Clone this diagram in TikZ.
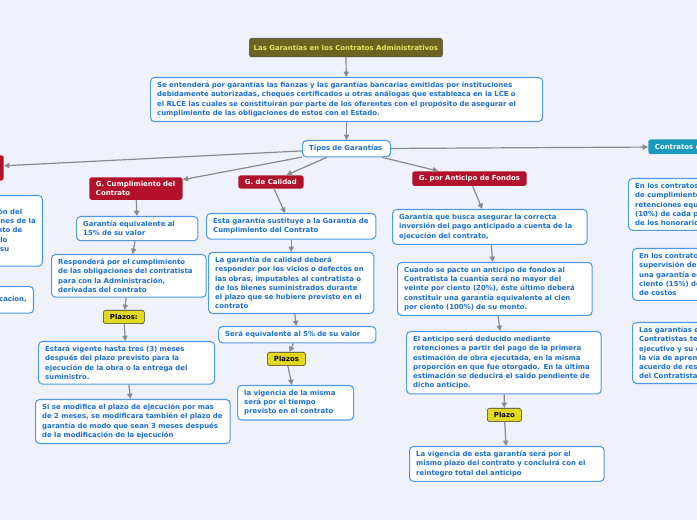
\documentclass[tikz,border=0pt]{standalone}
\usepackage{fontspec}
\setmainfont{DejaVu Sans}
\usetikzlibrary{arrows.meta}
\hyphenpenalty=10000
\exhyphenpenalty=10000
\newcommand\myfnt{\fontsize{5.2}{6.9}\selectfont\bfseries\hyphenpenalty10000\relax}
\definecolor{bg}{HTML}{F0F2FB}
\definecolor{tb}{HTML}{1B6FD2}
\definecolor{bd}{HTML}{4C9BEA}
\definecolor{rd}{HTML}{B3102C}
\definecolor{ol}{HTML}{6A6420}
\definecolor{yl}{HTML}{E3DA1E}
\definecolor{tl}{HTML}{1A9BBE}
\definecolor{ar}{HTML}{8A8A8A}
\tikzset{
 ft/.style={font=\myfnt},
 bx/.style={ft,draw=bd,fill=white,rounded corners=3pt,line width=0.8pt,text=tb,anchor=north west,align=left,inner xsep=5pt,inner ysep=3.5pt},
 rb/.style={ft,fill=rd,rounded corners=2pt,text=white,anchor=north west,align=left,inner xsep=5pt,inner ysep=3pt},
 yb/.style={ft,fill=yl,draw=black!80,rounded corners=2pt,text=black,anchor=north west,inner xsep=5pt,inner ysep=3pt},
 ar/.style={draw=ar,line width=0.9pt,-{Triangle[length=4pt,width=4pt]}}
}
\begin{document}
\begin{tikzpicture}[x=0.75pt,y=-0.75pt]
\fill[bg] (0,0) rectangle (697,520);
\useasboundingbox (0,0) rectangle (697,520);
\clip (0,0) rectangle (697,520);
\node[ft,fill=ol,draw=black!70,rounded corners=2pt,text=yl!70!white,anchor=north west,minimum width=140.25pt,minimum height=14pt] (t) at (249,38) {Las Garantías en los Contratos Administrativos};
\node[bx,text width=284pt] (i) at (150,77) {Se entenderá por garantías las fianzas y las garantías bancarias emitidas por instituciones debidamente autorizadas, cheques certificados u otras análogas que establezca en la LCE o el RLCE las cuales se constituirán por parte de los oferentes con el propósito de asegurar el cumplimiento de las obligaciones de estos con el Estado.};
\node[bx,text width=56pt] (tg) at (302,140) {Tipos de Garantías};
\node[rb,anchor=north east,minimum height=19pt] (lr) at (4,155) {G. de Participación};
\node[ft,fill=tl,rounded corners=2pt,text=white,anchor=north west,inner xsep=5pt,inner ysep=3.5pt] (ct) at (648,139) {Contratos de Consultoría};
\node[rb,text width=60pt] (gc) at (89,177) {G. Cumplimiento del Contrato};
\node[rb] (gq) at (238,175) {G. de Calidad};
\node[rb] (ga) at (412,171) {G. por Anticipo de Fondos};
% left partial
\node[bx,anchor=north east,minimum height=53pt] (l1) at (43,195) {Garantía de participación del\\oferente en las licitaciones de la\\Administración por monto de\\porcentaje establecido lo\\uno por ciento (1\%) de su};
\node[bx,anchor=north east,minimum height=20pt] (l2) at (34,286) {vigente hasta la adjudicacion,};
% cumplimiento
\node[bx,text width=81pt] (c1) at (76,216) {Garantía equivalente al 15\% de su valor};
\node[bx,text width=106pt] (c2) at (51,254) {Responderá por el cumplimiento de las obligaciones del contratista para con la Administración, derivadas del contrato};
\node[yb] (c3) at (103,310) {Plazos:};
\node[bx,text width=122pt] (c4) at (38,341) {Estará vigente hasta tres (3) meses después del plazo previsto para la ejecución de la obra o la entrega del suministro.};
\node[bx,text width=136pt] (c5) at (35,399) {Si se modifica el plazo de ejecución por mas de 2 meses, se modificara también el plazo de garantía de modo que sean 3 meses después de la modificación de la ejecución};
% calidad
\node[bx,text width=117pt] (q1) at (206,213) {Esta garantía sustituye a la Garantía de Cumplimiento del Contrato};
\node[bx,text width=114pt] (q2) at (208,252) {La garantía de calidad deberá responder por  los vicios o defectos en las obras, imputables al contratista o de los bienes suministrados durante el plazo que se hubiere previsto en el contrato};
\node[bx,text width=108pt] (q3) at (218,326) {Será equivalente al 5\% de su valor};
\node[yb] (q4) at (267,352) {Plazos};
\node[bx,text width=77pt] (q5) at (237,385) {la vigencia de la misma será por el tiempo previsto en el contrato};
% anticipo
\node[bx,text width=136pt] (a1) at (392,209) {Garantía que busca asegurar la correcta inversión del pago anticipado a cuenta de la ejecución del contrato,};
\node[bx,text width=136pt] (a2) at (397,262) {Cuando se pacte un anticipo de fondos al Contratista la cuantía será no mayor del veinte por ciento (20\%), éste último deberá constituir una garantía equivalente al cien por ciento (100\%) de su monto.};
\node[bx,text width=136pt] (a3) at (406,331) {El anticipo será deducido mediante retenciones a partir del pago de la primera estimación de obra ejecutada, en la misma proporción en que fue otorgado. En la última estimación se deducirá el saldo pendiente de dicho anticipo.};
\node[yb] (a4) at (487,408) {Plazo};
\node[bx,text width=136pt] (a5) at (409,446) {La vigencia de esta garantía será por el mismo plazo del contrato y concluirá con el reintegro total del anticipo};
% right partial
\node[bx] (r1) at (628,178) {En los contratos de consultoría, la garantía\\de cumplimiento se constituirá mediante\\retenciones equivalentes al diez por ciento\\(10\%) de cada pago parcial a cuenta\\de los honorarios};
\node[bx] (r2) at (632,248) {En los contratos de consultoría para\\supervisión de obras, se constituirá\\una garantía equivalente al quince por\\ciento (15\%) del valor del contrato\\de costos};
\node[bx] (r3) at (632,322) {Las garantías en los contratos de\\Contratistas tendrán carácter\\ejecutivo y su ejecución se hará por\\la vía de apremio, en su caso, de\\acuerdo de responsabilidad civil\\del Contratista};
% arrows
\draw[ar] (t) -- (i);
\draw[ar] (i) -- (tg);
\draw[ar] (tg) -- (lr);
\draw[ar] (tg) -- (ct);
\draw[ar] (tg) -- (gc);
\draw[ar] (tg) -- (gq);
\draw[ar] (tg) -- (ga);
\draw[ar] (gc) -- (c1);
\draw[ar] (c1) -- (c2);
\draw[ar] (c2) -- (c3);
\draw[ar] (c3) -- (c4);
\draw[ar] (c4) -- (c5);
\draw[ar] (gq) -- (q1);
\draw[ar] (q1) -- (q2);
\draw[ar] (q2) -- (q3);
\draw[ar] (q3) -- (q4);
\draw[ar] (q4) -- (q5);
\draw[ar] (ga) -- (a1);
\draw[ar] (a1) -- (a2);
\draw[ar] (a2) -- (a3);
\draw[ar] (a3) -- (a4);
\draw[ar] (a4) -- (a5);
\end{tikzpicture}
\end{document}
